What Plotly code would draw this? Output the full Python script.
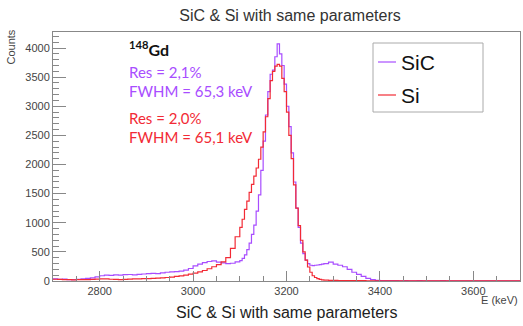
import plotly.graph_objects as go

title_text = "SiC & Si with same parameters"
x_label = "E (keV)"
y_label = "Counts"
series_names = ["SiC", "Si"]

# bin left edges (keV)
energy = [
    2700, 2710, 2720, 2730, 2740, 2750, 2760, 2770, 2780, 2790,
    2800, 2810, 2820, 2830, 2840, 2850, 2860, 2870, 2880, 2890,
    2900, 2910, 2920, 2930, 2940, 2950, 2960, 2970, 2980, 2990,
    3000, 3010, 3020, 3030, 3040, 3050, 3060, 3070, 3080, 3090,
    3100, 3105, 3110, 3115, 3120, 3125, 3130, 3135, 3140, 3145,
    3150, 3155, 3160, 3165, 3170, 3175, 3180, 3185, 3190, 3195,
    3200, 3205, 3210, 3215, 3220, 3225, 3230, 3235, 3240, 3245,
    3250, 3255, 3260, 3265, 3270, 3275,
    3280, 3290, 3300, 3310, 3320, 3330, 3340, 3350, 3360, 3370,
    3380, 3390, 3400, 3410, 3420, 3430, 3440, 3450, 3460, 3470,
    3480, 3490, 3500, 3510, 3520, 3530, 3540, 3550, 3560, 3570,
    3580, 3590, 3600, 3610, 3620, 3630, 3640, 3650, 3660, 3670,
    3680, 3690,
]
energy_end = 3700

sic_counts = [
    35, 30, 32, 25, 22, 28, 35, 45, 55, 70,
    90, 100, 95, 105, 100, 108, 112, 105, 115, 120,
    125, 130, 128, 140, 150, 155, 160, 170, 185, 215,
    260, 290, 315, 335, 345, 325, 310, 300, 305, 330,
    350, 390, 450, 540, 650, 800, 960, 1200, 1480, 1900,
    2400, 2850, 3250, 3550, 3620, 3850, 4070, 3900, 3700, 3380,
    3000, 2650, 2200, 1700, 1250, 920, 650, 470, 360, 300,
    270, 265, 270, 275, 280, 290,
    300, 325, 290, 270, 245, 200, 150, 115, 80, 45,
    22, 12, 8, 6, 5, 6, 4, 5, 4, 3,
    5, 4, 3, 4, 3, 5, 3, 4, 3, 3,
    4, 3, 3, 4, 3, 3, 2, 3, 3, 2,
    3, 2,
]

si_counts = [
    30, 28, 25, 22, 20, 22, 25, 22, 28, 32,
    38, 35, 30, 28, 25, 28, 32, 35, 38, 40,
    42, 45, 50, 55, 60, 68, 78, 88, 100, 118,
    135, 155, 180, 210, 245, 280, 330, 400, 560, 760,
    920, 1060, 1230, 1370, 1520, 1660, 1800, 1940, 2090, 2300,
    2560, 2820, 3130, 3440, 3600, 3690, 3720, 3690, 3480, 3250,
    2900, 2500, 2100, 1650, 1250, 950, 700, 500, 360, 240,
    150, 90, 60, 40, 28, 20,
    15, 12, 10, 8, 7, 6, 6, 5, 5, 4,
    4, 4, 3, 4, 3, 3, 3, 3, 2, 3,
    3, 2, 3, 2, 3, 2, 2, 3, 2, 2,
    2, 3, 2, 2, 2, 2, 2, 2, 2, 2,
    2, 2,
]

x_range = [2700, 3700]
y_range = [0, 4275]

purple = "#a84dff"
red = "#f22a35"
colors = [purple, red]

fig = go.Figure()
for name, vals, col in zip(series_names, [sic_counts, si_counts], colors):
    fig.add_trace(go.Scatter(
        x=energy + [energy_end], y=vals + [vals[-1]],
        mode="lines", line=dict(shape="hv", color=col, width=1.2),
        name=name, showlegend=False,
    ))

axis_common = dict(
    showgrid=False, zeroline=False, showline=True, linecolor="#888888",
    linewidth=1, mirror=True, ticks="inside", tickcolor="#888888",
    tickfont=dict(family="Liberation Sans", size=11, color="#444444"),
)
fig.update_xaxes(range=x_range, dtick=200, tick0=2800, ticklen=10,
                 minor=dict(dtick=50, ticks="inside", ticklen=5, tickcolor="#888888"),
                 **axis_common)
fig.update_yaxes(range=y_range, dtick=500, tick0=0, ticklen=13,
                 minor=dict(dtick=100, ticks="inside", ticklen=6, tickcolor="#888888"),
                 **axis_common)


def px_x(p):
    return (p - 53) / 467


def px_y(p):
    return (281 - p) / 249


annotations = [
    dict(text=x_label, xref="paper", yref="paper", x=1.0, y=px_y(292), xanchor="right",
         yanchor="top", showarrow=False,
         font=dict(family="Liberation Sans", size=11, color="#444444")),
    dict(text=y_label, xref="paper", yref="paper", x=px_x(10), y=px_y(28), xanchor="center",
         yanchor="top", textangle=-90, showarrow=False,
         font=dict(family="Liberation Sans", size=11, color="#444444")),
    dict(text=title_text, xref="paper", yref="paper", x=0.5, y=px_y(312), xanchor="center",
         yanchor="middle", showarrow=False,
         font=dict(family="Liberation Sans", size=16, color="#222222")),
    dict(text="<b><sup>148</sup>Gd</b>", xref="paper", yref="paper", x=px_x(127), y=px_y(48),
         xanchor="left", yanchor="middle", showarrow=False,
         font=dict(family="Lato", size=16, color="#111111")),
]
notes = [("Res = 2,1%", 72, purple), ("FWHM = 65,3 keV", 91, purple),
         ("Res = 2,0%", 118, red), ("FWHM = 65,1 keV", 137, red)]
for txt, yy, col in notes:
    annotations.append(dict(text=txt, xref="paper", yref="paper", x=px_x(127), y=px_y(yy),
                            xanchor="left", yanchor="middle", showarrow=False,
                            font=dict(family="Lato", size=15, color=col)))

# manual legend box
shapes = [
    dict(type="rect", xref="paper", yref="paper", x0=px_x(373), x1=px_x(483),
         y0=px_y(112), y1=px_y(43), line=dict(color="#aaaaaa", width=1), fillcolor="white"),
]
for i, (name, col) in enumerate(zip(series_names, colors)):
    yy = [62, 95][i]
    shapes.append(dict(type="line", xref="paper", yref="paper", x0=px_x(378), x1=px_x(396),
                       y0=px_y(yy), y1=px_y(yy), line=dict(color=col, width=1.2)))
    annotations.append(dict(text=name, xref="paper", yref="paper", x=px_x(399), y=px_y(yy),
                            xanchor="left", yanchor="middle", showarrow=False,
                            font=dict(family="Liberation Sans", size=21, color="#111111")))

fig.update_layout(
    width=523, height=326,
    margin=dict(l=53, r=3, t=32, b=45),
    paper_bgcolor="white", plot_bgcolor="white",
    title=dict(text=title_text, x=290 / 523, xanchor="center", y=1 - 15 / 326, yanchor="middle",
               font=dict(family="Liberation Sans", size=16, color="#333333")),
    annotations=annotations, shapes=shapes,
)

fig.write_html("out.html")
